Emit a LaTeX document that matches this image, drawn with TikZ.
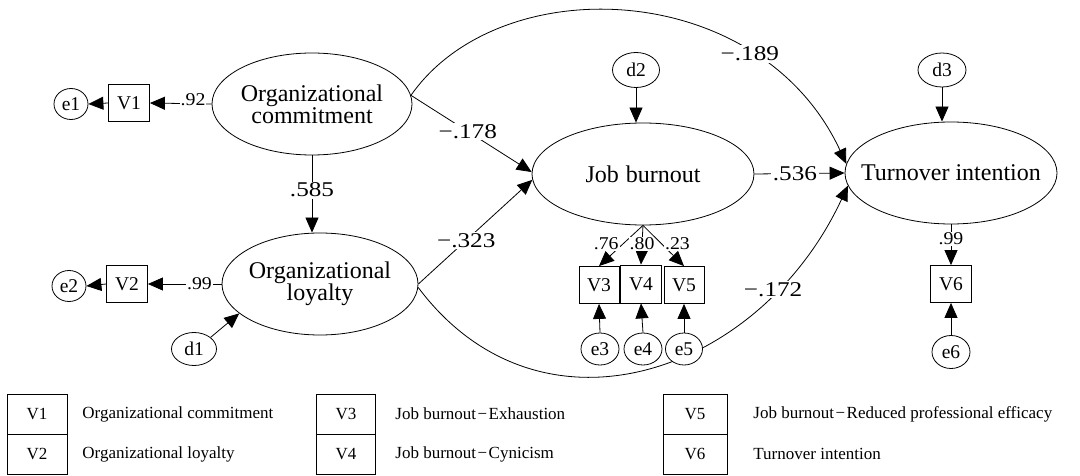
\documentclass[tikz,border=0pt]{standalone}
\usepackage{fontspec}
\setmainfont{Liberation Serif}
\newfontfamily\pathfont[FakeStretch=1.2]{Liberation Serif}
\newfontfamily\loadfont[FakeStretch=1.1]{Liberation Serif}
\usetikzlibrary{shapes.geometric,arrows.meta}
\newcommand{\lgdash}{\kern1.5pt−\kern1.5pt}
\begin{document}
\begin{tikzpicture}[x=1pt,y=-1pt,
  line width=0.8pt,
  lat/.style={draw, ellipse, inner sep=0pt, minimum height=102pt},
  lattext/.style={align=center, inner sep=0pt, font=\fontsize{24}{22}\selectfont},
  obs/.style={draw, rectangle, fill=white, inner sep=0pt, minimum width=41pt, minimum height=37pt, font=\fontsize{19.5}{19.5}\selectfont},
  err/.style={draw, ellipse, fill=white, inner sep=0pt, minimum width=38pt, minimum height=32pt, font=\fontsize{19.5}{19.5}\selectfont},
  arr/.style={-{Triangle[length=15pt,width=13pt]}},
  plab/.style={fill=white, inner sep=1.5pt, font=\pathfont\fontsize{21}{21}\selectfont},
  llab/.style={fill=white, inner sep=1pt, font=\loadfont\fontsize{18}{18}\selectfont},
  legcell/.style={draw, rectangle, inner sep=0pt, minimum height=40pt, font=\fontsize{17}{17}\selectfont},
  legtext/.style={anchor=west, inner sep=0pt, font=\fontsize{17}{17}\selectfont}
]
\useasboundingbox (0,0) rectangle (1080,476);

% latent variables
\node[lat, minimum width=200pt, label={[lattext]center:{Organizational\\commitment}}] (oc) at (312,104) {};
\node[lat, minimum width=196pt, label={[lattext]center:{Organizational\\loyalty}}] (ol) at (320,284) {};
\node[lat, minimum width=222pt, label={[lattext]center:{Job\hspace{7pt}burnout}}] (jb) at (643,174) {};
\node[lat, minimum width=212pt, label={[lattext]center:{Turnover intention}}] (ti) at (951,173) {};

% observed variables
\node[obs] (v1) at (129,103) {V1};
\node[obs] (v2) at (127,284) {V2};
\node[obs, minimum width=40pt] (v3) at (599,285) {V3};
\node[obs, minimum height=38pt] (v4) at (641,284) {V4};
\node[obs, minimum width=40pt] (v5) at (684,285) {V5};
\node[obs] (v6) at (951,284) {V6};

% long curved paths
\draw[arr] (oc.5) .. controls (500,-32) and (760,-22) .. node[plab,pos=0.74]{−.189} (ti.175);
\draw[arr] (ol.358) .. controls (540,450) and (760,375) .. node[plab,pos=0.78,yshift=3pt]{−.172} (ti.187);

% error / disturbance terms
\node[err, minimum width=34pt, minimum height=31pt] (e1) at (71,104) {e1};
\node[err, minimum width=34pt, minimum height=31pt] (e2) at (69,286) {e2};
\node[err, minimum width=45pt, minimum height=33pt] (d1) at (194,349) {d1};
\node[err, minimum width=47pt, minimum height=35pt] (d2) at (636,70) {d2};
\node[err, minimum width=48pt, minimum height=34pt] (d3) at (942,70) {d3};
\node[err] (e3) at (600,349) {e3};
\node[err] (e4) at (643,349) {e4};
\node[err, minimum width=37pt] (e5) at (684,349) {e5};
\node[err, minimum height=33pt] (e6) at (951,352) {e6};

% measurement paths
\draw[arr] (oc.west) -- node[llab,pos=0.3,yshift=4pt]{.92} (v1.east);
\draw[arr] (v1.west) -- (e1.east);
\draw[arr] (ol.west) -- node[llab,pos=0.3]{.99} (v2.east);
\draw[arr] (v2.west) -- (e2.east);
\draw[arr] (jb.south) -- node[llab,pos=0.45,xshift=-17pt]{.76} (v3.north);
\draw[arr] (jb.south) -- node[llab,pos=0.47]{.80} (v4.north);
\draw[arr] (jb.south) -- node[llab,pos=0.45,xshift=16pt]{.23} (v5.north);
\draw[arr] (ti.south) -- node[llab,pos=0.36]{.99} (v6.north);
\draw[arr] (e3.north) -- (v3.south);
\draw[arr] (e4.north) -- (v4.south);
\draw[arr] (e5.north) -- (v5.south);
\draw[arr] (e6.north) -- (v6.south);

% disturbances
\draw[arr] (d1.35) -- (ol.200);
\draw[arr] (d2.south) -- (d2.south |- jb.north);
\draw[arr] (d3.south) -- (d3.south |- ti.north);

% structural paths
\draw[arr] (oc.south) -- node[plab,pos=0.45]{.585} (oc.south |- ol.north);
\draw[arr] (oc.5) -- node[plab,pos=0.47]{−.178} (jb.179);
\draw[arr] (ol.east) -- node[plab,pos=0.42]{−.323} (jb.183);
\draw[arr] (jb.east) -- node[plab,pos=0.45]{.536} (ti.west);

% legend
\node[legcell, minimum width=60pt] (L1) at (37,414) {V1};
\node[legcell, minimum width=60pt] (L2) at (37,454) {V2};
\node[legcell, minimum width=59pt] (L3) at (346,414) {V3};
\node[legcell, minimum width=59pt] (L4) at (346,454) {V4};
\node[legcell, minimum width=64pt] (L5) at (695,414) {V5};
\node[legcell, minimum width=64pt] (L6) at (695,454) {V6};
\node[legtext] (T1) at (82,414) {Organizational commitment};
\node[legtext] (T2) at (82,454) {Organizational loyalty};
\node[legtext] (T3) at (395,414) {Job burnout\lgdash Exhaustion};
\node[legtext] (T4) at (395,454) {Job burnout\lgdash Cynicism};
\node[legtext] (T5) at (753,414) {Job burnout\lgdash Reduced professional efficacy};
\node[legtext] (T6) at (753,454) {Turnover intention};
\end{tikzpicture}
\end{document}
